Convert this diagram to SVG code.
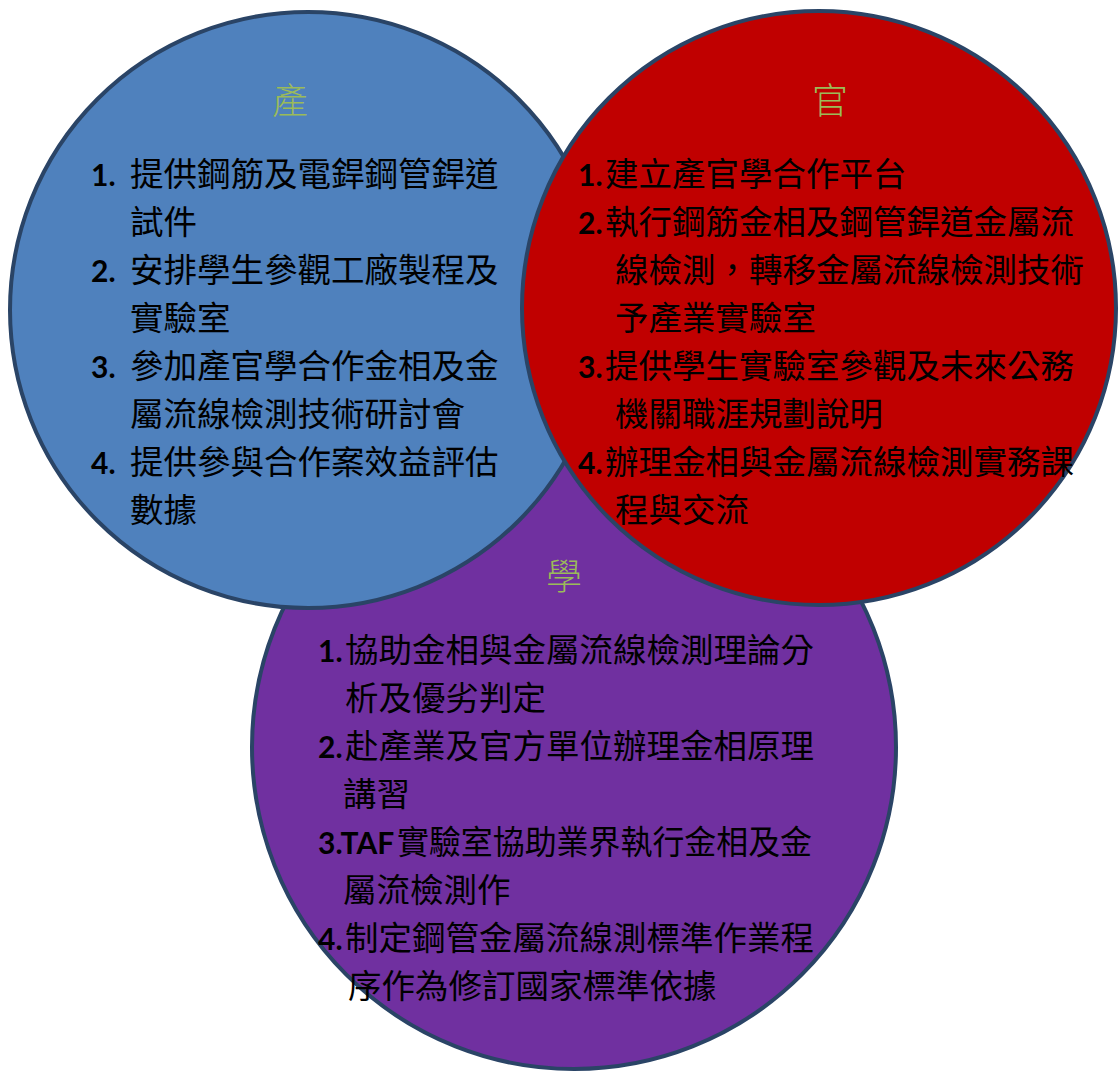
<svg xmlns="http://www.w3.org/2000/svg" width="1120" height="1072" viewBox="0 0 1120 1072">
<style>
.c{stroke:#2a4466;stroke-width:4}
.t{font-family:"Noto Sans CJK TC","Noto Sans CJK SC",sans-serif;font-size:36px;fill:#9bbb59;text-anchor:middle;font-weight:300}
.b{font-family:"Noto Sans CJK TC","Noto Sans CJK SC",sans-serif;font-size:33.5px;fill:#000;font-weight:400}
.n{font-family:Lato,"Open Sans",sans-serif;font-size:30px;font-weight:bold;fill:#000}
</style>
<rect width="1120" height="1072" fill="#fff"/>
<g id="xue">
<circle class="c" cx="574" cy="747" r="322" fill="#7030a0"/>
</g>
<g id="chan">
<circle class="c" cx="308" cy="310" r="298" fill="#4f81bd"/>
<text class="t" x="290" y="114">產</text>
<text class="n" x="91" y="186">1.</text><text class="b" x="130" y="186">提供鋼筋及電銲鋼管銲道</text>
<text class="b" x="130" y="234">試件</text>
<text class="n" x="91" y="282">2.</text><text class="b" x="130" y="282">安排學生參觀工廠製程及</text>
<text class="b" x="130" y="330">實驗室</text>
<text class="n" x="91" y="378">3.</text><text class="b" x="130" y="378">參加產官學合作金相及金</text>
<text class="b" x="130" y="426">屬流線檢測技術研討會</text>
<text class="n" x="91" y="474">4.</text><text class="b" x="130" y="474">提供參與合作案效益評估</text>
<text class="b" x="130" y="522">數據</text>
</g>
<g id="guan">
<circle class="c" cx="819" cy="308" r="297" fill="#c00000"/>
<text class="t" x="830" y="114">官</text>
<text class="n" x="578" y="186">1.</text><text class="b" x="605" y="186">建立產官學合作平台</text>
<text class="n" x="578" y="234">2.</text><text class="b" x="605" y="234">執行鋼筋金相及鋼管銲道金屬流</text>
<text class="b" x="615" y="282">線檢測，轉移金屬流線檢測技術</text>
<text class="b" x="615" y="330">予產業實驗室</text>
<text class="n" x="578" y="378">3.</text><text class="b" x="605" y="378">提供學生實驗室參觀及未來公務</text>
<text class="b" x="615" y="426">機關職涯規劃說明</text>
<text class="n" x="578" y="474">4.</text><text class="b" x="605" y="474">辦理金相與金屬流線檢測實務課</text>
<text class="b" x="615" y="522">程與交流</text>
</g>
<g id="xue-text">
<text class="t" x="564" y="590">學</text>
<text class="n" x="318" y="662">1.</text><text class="b" x="345" y="662">協助金相與金屬流線檢測理論分</text>
<text class="b" x="345" y="710">析及優劣判定</text>
<text class="n" x="318" y="758">2.</text><text class="b" x="345" y="758">赴產業及官方單位辦理金相原理</text>
<text class="b" x="343" y="806">講習</text>
<text class="n" x="318" y="854">3.TAF</text><text class="b" x="397" y="854" textLength="415" lengthAdjust="spacingAndGlyphs">實驗室協助業界執行金相及金</text>
<text class="b" x="343" y="902">屬流檢測作</text>
<text class="n" x="318" y="950">4.</text><text class="b" x="345" y="950">制定鋼管金屬流線測標準作業程</text>
<text class="b" x="348" y="998">序作為修訂國家標準依據</text>
</g>
<g id="connectors"></g>
</svg>
